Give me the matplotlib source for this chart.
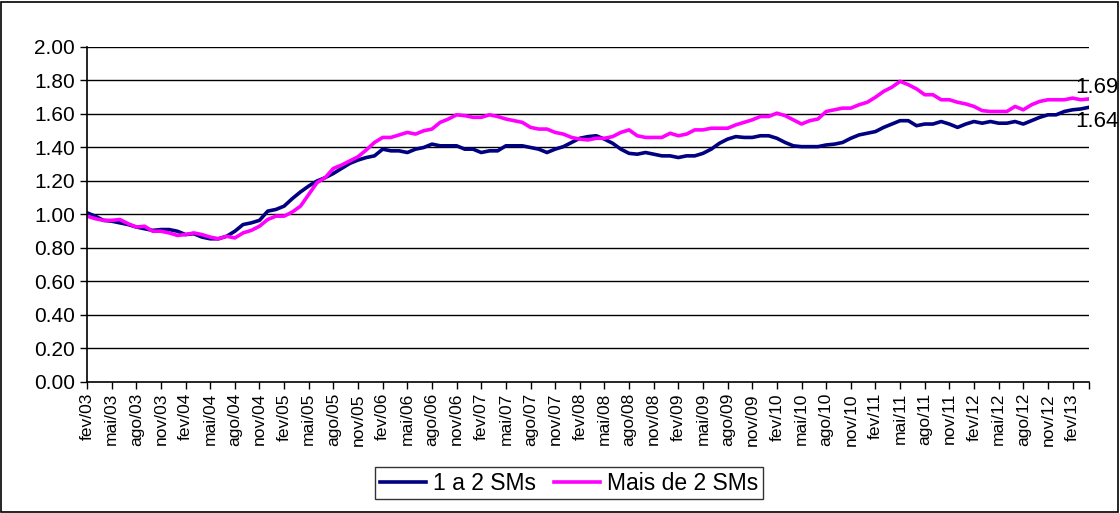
import matplotlib
matplotlib.use('Agg')
from matplotlib import pyplot as plt
from matplotlib.patches import Rectangle

plt.rcParams['font.family'] = ['Liberation Sans', 'DejaVu Sans']

# monthly index, fev/03 .. abr/13
months = ['jan', 'fev', 'mar', 'abr', 'mai', 'jun', 'jul', 'ago', 'set', 'out', 'nov', 'dez']

s1 = [1.01, 0.99, 0.965, 0.96, 0.95, 0.94, 0.925, 0.915, 0.905, 0.91,
      0.91, 0.90, 0.88, 0.885, 0.865, 0.855, 0.855, 0.87, 0.90, 0.94,
      0.95, 0.965, 1.02, 1.03, 1.05, 1.095, 1.135, 1.17, 1.20, 1.22,
      1.245, 1.275, 1.305, 1.325, 1.34, 1.35, 1.39, 1.38, 1.38, 1.37,
      1.39, 1.40, 1.42, 1.41, 1.41, 1.41, 1.39, 1.39, 1.37, 1.38,
      1.38, 1.41, 1.41, 1.41, 1.40, 1.39, 1.37, 1.39, 1.405, 1.43,
      1.455, 1.465, 1.47, 1.45, 1.425, 1.39, 1.365, 1.36, 1.37, 1.36,
      1.35, 1.35, 1.34, 1.35, 1.35, 1.365, 1.39, 1.425, 1.45, 1.465,
      1.46, 1.46, 1.47, 1.47, 1.455, 1.43, 1.41, 1.405, 1.405, 1.405,
      1.415, 1.42, 1.43, 1.455, 1.475, 1.485, 1.495, 1.52, 1.54, 1.56,
      1.56, 1.53, 1.54, 1.54, 1.555, 1.54, 1.52, 1.54, 1.555, 1.545,
      1.555, 1.545, 1.545, 1.555, 1.54, 1.56, 1.58, 1.595, 1.595, 1.615,
      1.625, 1.63, 1.64]

s2 = [0.99, 0.975, 0.965, 0.965, 0.97, 0.945, 0.925, 0.93, 0.90, 0.90,
      0.89, 0.875, 0.88, 0.89, 0.88, 0.865, 0.855, 0.87, 0.86, 0.89,
      0.905, 0.93, 0.97, 0.99, 0.99, 1.015, 1.05, 1.12, 1.19, 1.22,
      1.275, 1.295, 1.32, 1.345, 1.385, 1.43, 1.46, 1.46, 1.475, 1.49,
      1.48, 1.50, 1.51, 1.55, 1.57, 1.595, 1.59, 1.58, 1.58, 1.595,
      1.585, 1.57, 1.56, 1.55, 1.52, 1.51, 1.51, 1.49, 1.48, 1.46,
      1.45, 1.445, 1.455, 1.455, 1.465, 1.49, 1.505, 1.47, 1.46, 1.46,
      1.46, 1.485, 1.47, 1.48, 1.505, 1.505, 1.515, 1.515, 1.515, 1.535,
      1.55, 1.565, 1.585, 1.585, 1.605, 1.59, 1.565, 1.54, 1.56, 1.57,
      1.615, 1.625, 1.635, 1.635, 1.655, 1.67, 1.70, 1.735, 1.76, 1.795,
      1.775, 1.75, 1.715, 1.715, 1.685, 1.685, 1.67, 1.66, 1.645, 1.62,
      1.615, 1.615, 1.615, 1.645, 1.625, 1.655, 1.675, 1.685, 1.685, 1.685,
      1.695, 1.685, 1.69]

labels = []
for i in range(len(s1)):
    m = (1 + i) % 12
    y = 3 + (1 + i) // 12
    labels.append('%s/%02d' % (months[m], y))

x = list(range(len(s1)))

fig = plt.figure(figsize=(11.2, 5.13), dpi=100)
ax = fig.add_axes([0.0777, 0.2554, 0.9723 - 0.0777, 0.9084 - 0.2554])

ax.plot(x, s1, color='#000080', lw=2.6, label='1 a 2 SMs')
ax.plot(x, s2, color='#FF00FF', lw=2.6, label='Mais de 2 SMs')

ax.set_ylim(0, 2.0)
ax.set_xlim(0, len(s1) - 1)
ax.set_yticks([i * 0.2 for i in range(11)])
ax.set_yticklabels(['%.2f' % (i * 0.2) for i in range(11)], fontsize=15)
for yv in [i * 0.2 for i in range(1, 11)]:
    ax.axhline(yv, color='black', lw=1.0, zorder=0)

xt = list(range(0, len(s1), 3)) + [len(s1) - 1]
ax.set_xticks(xt)
ax.set_xticklabels([labels[i] for i in range(0, len(s1), 3)] + [''],
                   rotation=90, fontsize=12.5)
ax.tick_params(axis='both', direction='out', length=5, width=1, colors='black')
ax.tick_params(axis='x', pad=3)

for side in ['top', 'right']:
    ax.spines[side].set_visible(False)
for side in ['left', 'bottom']:
    ax.spines[side].set_color('black')
    ax.spines[side].set_linewidth(1.2)

ax.annotate('%.2f' % s2[-1], (x[-1], s2[-1]), xytext=(-10, 8),
            textcoords='offset points', fontsize=16, va='center', ha='left')
ax.annotate('%.2f' % s1[-1], (x[-1], s1[-1]), xytext=(-10, -10),
            textcoords='offset points', fontsize=16, va='center', ha='left')

leg = fig.legend(loc='lower center', bbox_to_anchor=(0.508, 0.004), ncol=2,
                 fontsize=16.5, frameon=True, fancybox=False, handlelength=2.0,
                 columnspacing=0.8, handletextpad=0.3, borderpad=0.2)
leg.get_frame().set_edgecolor('black')
leg.get_frame().set_linewidth(1.0)

fig.patches.append(Rectangle((0.001, 0.002), 0.997, 0.995, transform=fig.transFigure,
                             fill=False, edgecolor='black', lw=1.2))

fig.savefig('out.png', dpi=100)
